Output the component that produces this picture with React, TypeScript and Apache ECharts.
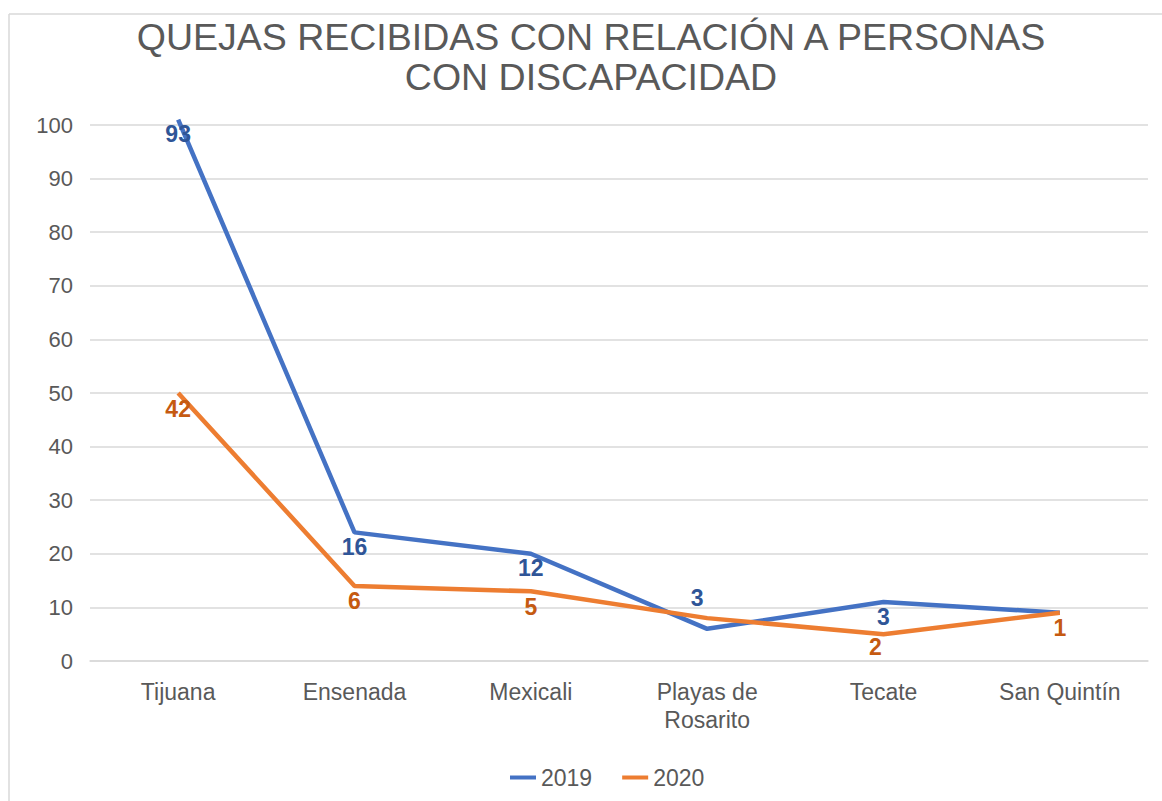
import React, { useEffect, useRef } from "react";
import * as echarts from "echarts";

const categories = ["Tijuana", "Ensenada", "Mexicali", "Playas de\nRosarito", "Tecate", "San Quintín"];
const values2019 = [101, 24, 20, 6, 11, 9];
const values2020 = [50, 14, 13, 8, 5, 9];
const labels2019 = ["93", "16", "12", "3", "3", ""];
const labels2020 = ["42", "6", "5", "", "2", "1"];
const yTicks = { min: 0, max: 100, interval: 10 };

export default function App() {
  const ref = useRef<HTMLDivElement>(null);
  useEffect(() => {
    if (!ref.current) return;
    const chart = echarts.init(ref.current, undefined, { renderer: "svg" });
    const font = "Liberation Sans, Arial, sans-serif";
    const mkData = (vals: number[], special: Record<number, any>) =>
      vals.map((v, i) => (special[i] ? { value: v, label: special[i] } : { value: v }));
    chart.setOption({
      animation: false,
      backgroundColor: "#ffffff",
      textStyle: { fontFamily: font },
      title: {
        text: "QUEJAS RECIBIDAS CON RELACIÓN A PERSONAS\nCON DISCAPACIDAD",
        left: 591,
        top: 17,
        padding: 0,
        textAlign: "center",
        textStyle: {
          fontFamily: font,
          fontSize: 37.5,
          fontWeight: "normal",
          color: "#595959",
          lineHeight: 40,
        },
      },
      legend: {
        left: 505,
        top: 761,
        itemWidth: 26,
        itemHeight: 4,
        itemGap: 30,
        icon: "rect",
        textStyle: { fontFamily: font, fontSize: 23, color: "#595959" },
        data: ["2019", "2020"],
      },
      graphic: [
        { type: "line", shape: { x1: 9, y1: 14, x2: 1162, y2: 14 }, style: { stroke: "#d9d9d9", lineWidth: 1.5 } },
        { type: "line", shape: { x1: 9, y1: 14, x2: 9, y2: 801 }, style: { stroke: "#d9d9d9", lineWidth: 1.5 } },
      ],
      grid: { left: 90, right: 14, top: 125, bottom: 140, containLabel: false },
      xAxis: {
        type: "category",
        data: categories,
        boundaryGap: true,
        axisLine: { show: true, lineStyle: { color: "#d9d9d9", width: 1.5 } },
        axisTick: { show: false },
        axisLabel: {
          fontFamily: font,
          fontSize: 23,
          color: "#595959",
          margin: 17,
          lineHeight: 28,
          interval: 0,
        },
      },
      yAxis: {
        type: "value",
        min: yTicks.min,
        max: yTicks.max,
        interval: yTicks.interval,
        axisLine: { show: false },
        axisTick: { show: false },
        splitLine: { lineStyle: { color: "#d9d9d9", width: 1.5 } },
        axisLabel: { fontFamily: font, fontSize: 22, color: "#595959", margin: 17 },
      },
      series: [
        {
          name: "2019",
          type: "line",
          clip: false,
          showSymbol: true,
          symbol: "circle",
          symbolSize: 0,
          color: "#4472c4",
          lineStyle: { color: "#4472c4", width: 4.5 },
          data: mkData(values2019, {
            3: { position: "top", distance: 19, offset: [-10, 0] },
          }),
          label: {
            show: true,
            position: "bottom",
            distance: 3,
            fontFamily: font,
            fontSize: 23,
            fontWeight: "bold",
            color: "#2f5597",
            formatter: (p: any) => labels2019[p.dataIndex],
          },
        },
        {
          name: "2020",
          type: "line",
          clip: false,
          showSymbol: true,
          symbol: "circle",
          symbolSize: 0,
          color: "#ed7d31",
          lineStyle: { color: "#ed7d31", width: 4.5 },
          data: mkData(values2020, {
            4: { position: "bottom", distance: 3, offset: [-8, -2] },
          }),
          label: {
            show: true,
            position: "bottom",
            distance: 4,
            fontFamily: font,
            fontSize: 23,
            fontWeight: "bold",
            color: "#c55a11",
            formatter: (p: any) => labels2020[p.dataIndex],
          },
        },
      ],
    });
    return () => chart.dispose();
  }, []);
  return (
    <div
      ref={ref}
      style={{ position: "fixed", left: 0, top: 0, width: 1162, height: 801, background: "#fff" }}
    />
  );
}
